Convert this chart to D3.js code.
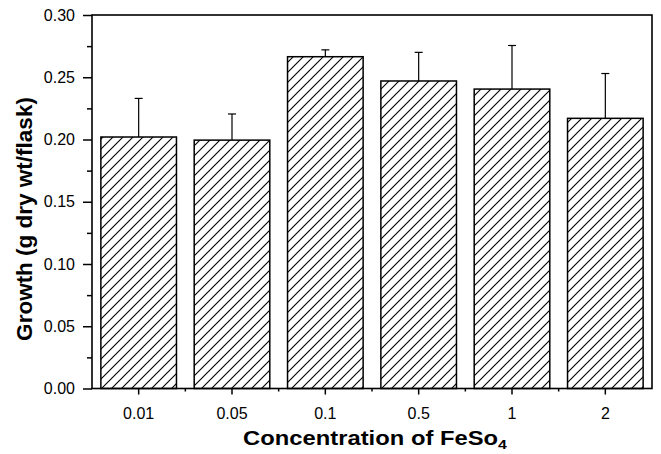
<!DOCTYPE html>
<html>
<head>
<meta charset="utf-8">
<script src="https://cdn.jsdelivr.net/npm/d3@7"></script>
<style>
  html, body { margin: 0; padding: 0; background: #fff; }
  svg { display: block; }
  text { font-family: "Liberation Sans", Arial, Helvetica, sans-serif; fill: #000; }
</style>
</head>
<body>
<svg id="chart" width="661" height="454"></svg>
<script>
const categories = ["0.01", "0.05", "0.1", "0.5", "1", "2"];
const growth = [0.202, 0.1995, 0.2665, 0.247, 0.2405, 0.217];
const errors = [0.031, 0.021, 0.0055, 0.023, 0.035, 0.036];
const yTicks = [0.00, 0.05, 0.10, 0.15, 0.20, 0.25, 0.30];
const yMinorTicks = [0.025, 0.075, 0.125, 0.175, 0.225, 0.275];
const xTitle = "Concentration of FeSo";
const xTitleSub = "4";
const yTitle = "Growth (g dry wt/flask)";

const svg = d3.select("#chart");
const L = 92, R = 652, T = 15, B = 388.5;

const x = d3.scaleBand().domain(categories).range([L, R]).paddingInner(0.19).paddingOuter(0.095);
const y = d3.scaleLinear().domain([0, 0.30]).range([B, T]);

// hatch pattern: "/" lines running from lower-left to upper-right
const defs = svg.append("defs");
const S = 10;
const pat = defs.append("pattern")
  .attr("id", "hatch").attr("patternUnits", "userSpaceOnUse")
  .attr("width", S).attr("height", S);
pat.append("rect").attr("width", S).attr("height", S).attr("fill", "#fff");
pat.append("path")
  .attr("d", `M0,${S} L${S},0 M${-S/4},${S/4} L${S/4},${-S/4} M${S*3/4},${S*5/4} L${S*5/4},${S*3/4}`)
  .attr("stroke", "#000").attr("stroke-width", 1.1).attr("fill", "none");

// bars
svg.append("g").selectAll("rect").data(categories).join("rect")
  .attr("x", d => x(d))
  .attr("y", (d, i) => y(growth[i]))
  .attr("width", x.bandwidth())
  .attr("height", (d, i) => y(0) - y(growth[i]))
  .attr("fill", "url(#hatch)")
  .attr("stroke", "#000").attr("stroke-width", 1.5);

// error bars (upward only)
const eg = svg.append("g").attr("stroke", "#000").attr("stroke-width", 1.2);
categories.forEach((c, i) => {
  const cx = x(c) + x.bandwidth() / 2;
  eg.append("line").attr("x1", cx).attr("x2", cx)
    .attr("y1", y(growth[i])).attr("y2", y(growth[i] + errors[i]));
  eg.append("line").attr("x1", cx - 4).attr("x2", cx + 4)
    .attr("y1", y(growth[i] + errors[i])).attr("y2", y(growth[i] + errors[i]));
});

// frame
svg.append("rect").attr("x", L).attr("y", T).attr("width", R - L).attr("height", B - T)
  .attr("fill", "none").attr("stroke", "#000").attr("stroke-width", 1.6);

// y axis
const yAxis = d3.axisLeft(y).tickValues(yTicks).tickFormat(d3.format(".2f")).tickSize(9).tickPadding(8);
const ya = svg.append("g").attr("transform", `translate(${L},0)`).call(yAxis)
  .attr("font-size", 16).attr("font-family", null);
ya.select(".domain").remove();
ya.selectAll(".tick line").attr("stroke-width", 1.5);
ya.selectAll(".tick text").style("font-size", "16px").attr("fill", "#000");
const yMinor = d3.axisLeft(y).tickValues(yMinorTicks).tickSize(5).tickFormat("");
const ym = svg.append("g").attr("transform", `translate(${L},0)`).call(yMinor);
ym.select(".domain").remove();
ym.selectAll(".tick line").attr("stroke-width", 1.5);

// x axis
const xAxis = d3.axisBottom(x).tickSize(6).tickPadding(13);
const xa = svg.append("g").attr("transform", `translate(0,${B})`).call(xAxis)
  .attr("font-size", 16).attr("font-family", null);
xa.select(".domain").remove();
xa.selectAll(".tick line").attr("stroke-width", 1.5);
xa.selectAll(".tick text").style("font-size", "16px").attr("fill", "#000");
// minor x ticks at category boundaries
const bounds = categories.slice(1).map(c => x(c) - x.step() * x.paddingInner() / 2);
svg.append("g").selectAll("line").data(bounds).join("line")
  .attr("x1", d => d).attr("x2", d => d).attr("y1", B).attr("y2", B + 3)
  .attr("stroke", "#000").attr("stroke-width", 1.5);

// x title
const xt = svg.append("text")
  .attr("transform", `translate(${(L + R) / 2 + 3},445) scale(1.22,1)`)
  .attr("text-anchor", "middle").style("font-size", "19.5px").style("font-weight", "bold");
xt.append("tspan").text(xTitle);
xt.append("tspan").text(xTitleSub).attr("dy", 4).style("font-size", "13px");

// y title
svg.append("text")
  .attr("transform", `translate(32,${219}) rotate(-90)`)
  .attr("text-anchor", "middle").style("font-size", "22.5px").style("font-weight", "bold")
  .text(yTitle);
</script>
</body>
</html>
